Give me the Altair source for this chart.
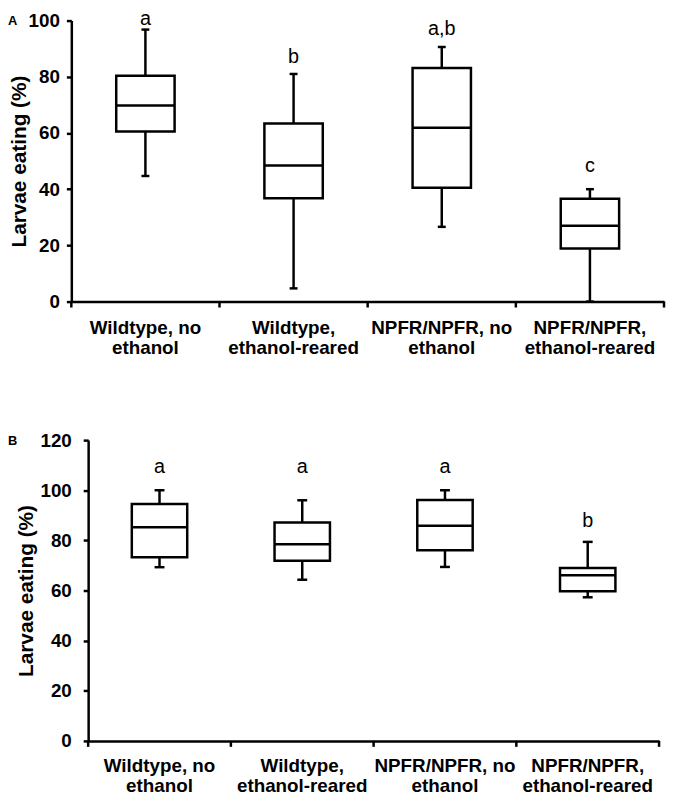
import altair as alt
import pandas as pd

categories = [
    "Wildtype, no ethanol",
    "Wildtype, ethanol-reared",
    "NPFR/NPFR, no ethanol",
    "NPFR/NPFR, ethanol-reared",
]

# Panel A (box-plot summaries, % larvae eating)
a_min = [44.7, 4.7, 26.6, 0.0]
a_q1 = [60.5, 36.8, 40.5, 18.9]
a_med = [69.8, 48.4, 61.9, 27.0]
a_q3 = [80.4, 63.4, 83.1, 36.6]
a_max = [96.8, 81.0, 90.6, 40.0]
a_letters = ["a", "b", "a,b", "c"]
a_letter_y = [98.4, 84.8, 94.7, 46.2]

# Panel B
b_min = [69.3, 64.3, 69.4, 57.3]
b_q1 = [73.3, 71.9, 76.1, 59.7]
b_med = [85.2, 78.5, 85.8, 66.1]
b_q3 = [94.5, 87.1, 96.1, 69.0]
b_max = [100.0, 96.0, 100.0, 79.4]
b_letters = ["a", "a", "a", "b"]
b_letter_y = [106.8, 106.8, 106.8, 85.2]

FONT = "Liberation Sans, Arial, Helvetica, sans-serif"
LABEL_EXPR = ("[slice(datum.label, 0, lastindexof(datum.label, ' ')), "
              "slice(datum.label, lastindexof(datum.label, ' ') + 1)]")
SW = 2.5


def make_panel(tag, lo, q1, med, q3, hi, letters, letter_y, y_max, inset, width, height,
               box_w, cap_w, y_label_pad, y_title_pad, title_dx, title_offset, x_label_pad):
    df = pd.DataFrame({
        "group": categories, "lo": lo, "q1": q1, "med": med, "q3": q3, "hi": hi,
        "letter": letters, "letter_y": letter_y,
    })
    y_scale = alt.Scale(domain=[0, y_max], nice=False, zero=True)
    y_axis = alt.Axis(
        values=list(range(0, y_max + 1, 20)), title="Larvae eating (%)", grid=False,
        domainColor="black", domainWidth=SW, tickColor="black", tickWidth=SW, tickSize=5,
        labelFont=FONT, labelFontSize=19, labelFontWeight="bold", labelColor="black",
        labelPadding=y_label_pad, titleFont=FONT, titleFontSize=21, titleFontWeight="bold",
        titleColor="black", titlePadding=y_title_pad, offset=-inset,
    )
    x_axis = alt.Axis(
        title=None, labelAngle=0, labelExpr=LABEL_EXPR, labelFont=FONT, labelFontSize=19,
        labelFontWeight="bold", labelColor="black", labelLineHeight=20,
        labelPadding=x_label_pad, labelLimit=400, ticks=False, tickSize=0,
        domainColor="black", domainWidth=SW, grid=False,
    )
    x_scale = alt.Scale(domain=categories, paddingInner=0, paddingOuter=0,
                        range=[inset, inset + width])

    def X(**kw):
        return alt.X("group:N", scale=x_scale, axis=x_axis, sort=categories, **kw)

    def Y(field):
        return alt.Y(field, scale=y_scale, axis=y_axis)

    base = alt.Chart(df)
    whisk = base.mark_rule(color="black", strokeWidth=SW).encode(
        x=X(), y=Y("lo:Q"), y2="hi:Q")
    box = base.mark_bar(width=box_w, fill="white", stroke="black", strokeWidth=SW).encode(
        x=X(), y=Y("q1:Q"), y2="q3:Q")
    median = base.mark_tick(color="black", size=box_w, thickness=SW, opacity=1).encode(
        x=X(), y=Y("med:Q"))
    cap_hi = base.mark_tick(color="black", size=cap_w, thickness=SW, opacity=1).encode(
        x=X(), y=Y("hi:Q"))
    cap_lo = base.mark_tick(color="black", size=cap_w, thickness=SW, opacity=1).encode(
        x=X(), y=Y("lo:Q"))
    letters_layer = base.mark_text(font=FONT, fontSize=20, color="black",
                                   baseline="alphabetic").encode(
        x=X(), y=Y("letter_y:Q"), text="letter:N")
    edge_ticks = base.mark_rule(color="black", strokeWidth=SW).encode(
        x=X(bandPosition=0), y=alt.value(height), y2=alt.value(height + 6))
    end_tick = base.transform_filter(alt.datum.group == categories[-1]).mark_rule(
        color="black", strokeWidth=SW).encode(
        x=X(bandPosition=1), y=alt.value(height), y2=alt.value(height + 6))

    return alt.layer(
        whisk, box, median, cap_hi, cap_lo, letters_layer, edge_ticks, end_tick
    ).properties(
        width=inset + width, height=height,
        title=alt.Title(tag, anchor="start", frame="group", dx=title_dx,
                        offset=title_offset, fontSize=13, fontWeight="bold", font=FONT,
                        color="black", baseline="alphabetic"),
    )


panel_a = make_panel("A", a_min, a_q1, a_med, a_q3, a_max, a_letters, a_letter_y,
                     100, 0, 599, 284, 59, 8, 7, -1, -64, -29, 17)
panel_b = make_panel("B", b_min, b_q1, b_med, b_q3, b_max, b_letters, b_letter_y,
                     120, 17, 577, 304, 56, 10, 12, 4, -64, -27, 16)

chart = alt.concat(panel_a, panel_b, columns=1, align="none", spacing=75).properties(
    padding={"left": 0, "top": -3.5, "right": 0, "bottom": 0},
    background="white",
).configure_view(stroke=None)

chart.save("out.html", embed_options={"renderer": "svg", "actions": False})
